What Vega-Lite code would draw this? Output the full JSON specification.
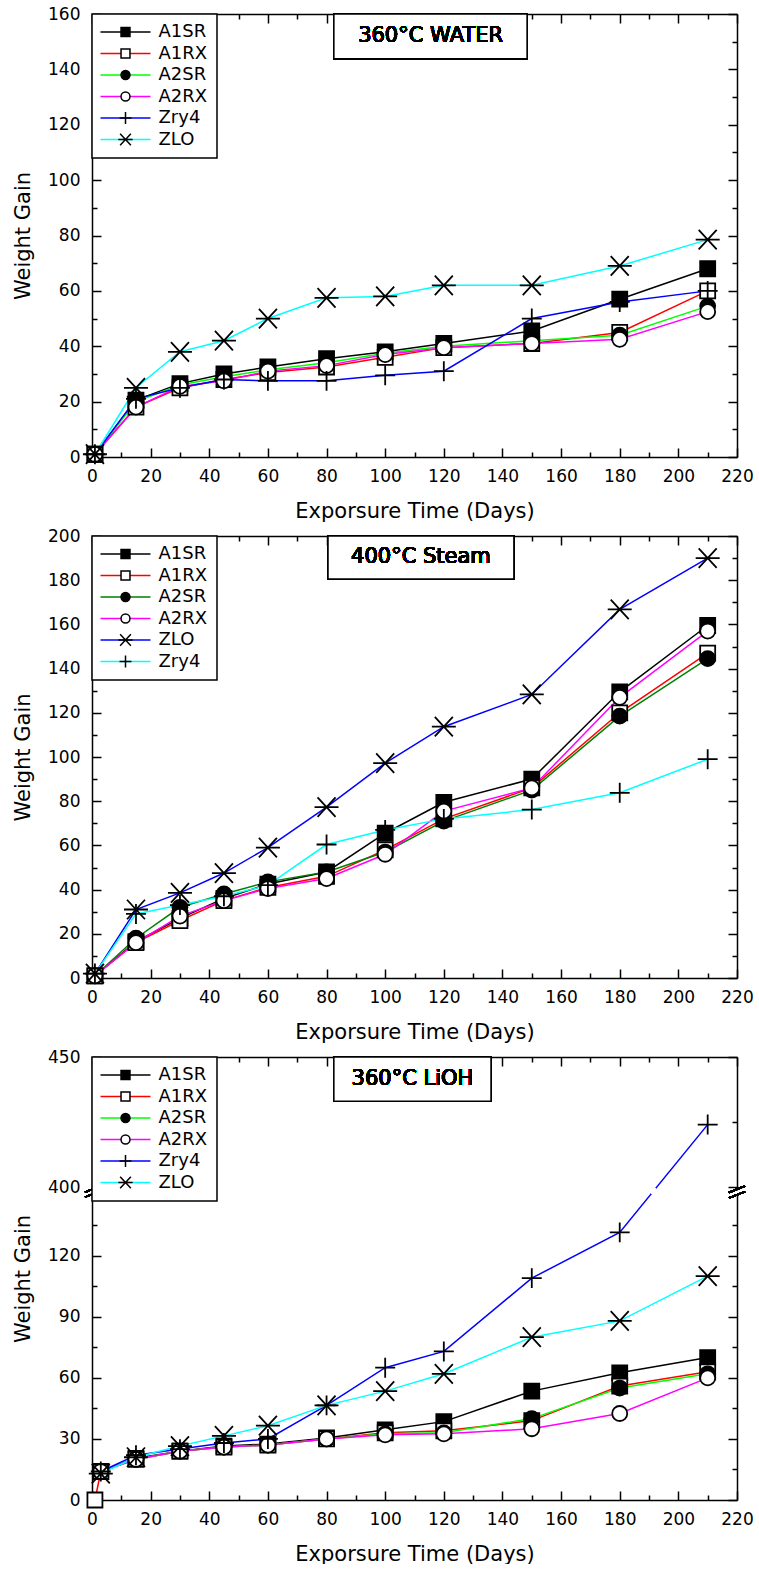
{
  "$schema": "https://vega.github.io/schema/vega-lite/v6.json",
  "background": "white",
  "padding": {"left": 12, "top": 5, "right": 0, "bottom": 0},
  "bounds": "flush",
  "spacing": 79,
  "config": {
    "view": {"stroke": null},
    "legend": {"strokeWidth": 1.5},
    "axis": {
      "domainColor": "black", "domainWidth": 1.5, "tickColor": "black", "tickWidth": 1.5,
      "labelFont": "DejaVu Sans", "labelFontSize": 17, "labelColor": "black",
      "titleFont": "DejaVu Sans", "titleFontSize": 21, "titleFontWeight": "normal", "titleColor": "black",
      "grid": false
    }
  },
  "resolve": {
    "scale": {"x": "independent", "y": "independent", "color": "independent", "shape": "independent", "fill": "independent", "stroke": "independent"},
    "legend": {"color": "independent", "shape": "independent", "fill": "independent", "stroke": "independent"}
  },
  "datasets": {
    "water": [
      {"series": "A1SR", "days": 1, "gain": 1}, {"series": "A1SR", "days": 15, "gain": 20.5}, {"series": "A1SR", "days": 30, "gain": 26.5}, {"series": "A1SR", "days": 45, "gain": 30}, {"series": "A1SR", "days": 60, "gain": 32.5}, {"series": "A1SR", "days": 80, "gain": 35.5}, {"series": "A1SR", "days": 100, "gain": 38}, {"series": "A1SR", "days": 120, "gain": 41}, {"series": "A1SR", "days": 150, "gain": 45.5}, {"series": "A1SR", "days": 180, "gain": 57}, {"series": "A1SR", "days": 210, "gain": 68},
      {"series": "A1RX", "days": 1, "gain": 1}, {"series": "A1RX", "days": 15, "gain": 18}, {"series": "A1RX", "days": 30, "gain": 25}, {"series": "A1RX", "days": 45, "gain": 28}, {"series": "A1RX", "days": 60, "gain": 30.5}, {"series": "A1RX", "days": 80, "gain": 32.5}, {"series": "A1RX", "days": 100, "gain": 36}, {"series": "A1RX", "days": 120, "gain": 39.5}, {"series": "A1RX", "days": 150, "gain": 41}, {"series": "A1RX", "days": 180, "gain": 45}, {"series": "A1RX", "days": 210, "gain": 60},
      {"series": "A2SR", "days": 1, "gain": 1}, {"series": "A2SR", "days": 15, "gain": 20}, {"series": "A2SR", "days": 30, "gain": 26}, {"series": "A2SR", "days": 45, "gain": 29}, {"series": "A2SR", "days": 60, "gain": 31.5}, {"series": "A2SR", "days": 80, "gain": 34}, {"series": "A2SR", "days": 100, "gain": 37.5}, {"series": "A2SR", "days": 120, "gain": 40}, {"series": "A2SR", "days": 150, "gain": 42}, {"series": "A2SR", "days": 180, "gain": 44}, {"series": "A2SR", "days": 210, "gain": 54.5},
      {"series": "A2RX", "days": 1, "gain": 1}, {"series": "A2RX", "days": 15, "gain": 18}, {"series": "A2RX", "days": 30, "gain": 25.5}, {"series": "A2RX", "days": 45, "gain": 27.5}, {"series": "A2RX", "days": 60, "gain": 31}, {"series": "A2RX", "days": 80, "gain": 33}, {"series": "A2RX", "days": 100, "gain": 37}, {"series": "A2RX", "days": 120, "gain": 39.5}, {"series": "A2RX", "days": 150, "gain": 41}, {"series": "A2RX", "days": 180, "gain": 42.5}, {"series": "A2RX", "days": 210, "gain": 52.5},
      {"series": "Zry4", "days": 1, "gain": 1}, {"series": "Zry4", "days": 15, "gain": 21}, {"series": "Zry4", "days": 30, "gain": 25}, {"series": "Zry4", "days": 45, "gain": 28}, {"series": "Zry4", "days": 60, "gain": 27.5}, {"series": "Zry4", "days": 80, "gain": 27.5}, {"series": "Zry4", "days": 100, "gain": 29.5}, {"series": "Zry4", "days": 120, "gain": 31}, {"series": "Zry4", "days": 150, "gain": 50}, {"series": "Zry4", "days": 180, "gain": 56}, {"series": "Zry4", "days": 210, "gain": 60},
      {"series": "ZLO", "days": 1, "gain": 1}, {"series": "ZLO", "days": 15, "gain": 25}, {"series": "ZLO", "days": 30, "gain": 38}, {"series": "ZLO", "days": 45, "gain": 42}, {"series": "ZLO", "days": 60, "gain": 50}, {"series": "ZLO", "days": 80, "gain": 57.5}, {"series": "ZLO", "days": 100, "gain": 58}, {"series": "ZLO", "days": 120, "gain": 62}, {"series": "ZLO", "days": 150, "gain": 62}, {"series": "ZLO", "days": 180, "gain": 69}, {"series": "ZLO", "days": 210, "gain": 78.5}
    ],
    "steam": [
      {"series": "A1SR", "days": 1, "gain": 1}, {"series": "A1SR", "days": 15, "gain": 16.5}, {"series": "A1SR", "days": 30, "gain": 27}, {"series": "A1SR", "days": 45, "gain": 36}, {"series": "A1SR", "days": 60, "gain": 42.5}, {"series": "A1SR", "days": 80, "gain": 48}, {"series": "A1SR", "days": 100, "gain": 65.5}, {"series": "A1SR", "days": 120, "gain": 79.5}, {"series": "A1SR", "days": 150, "gain": 90}, {"series": "A1SR", "days": 180, "gain": 129.5}, {"series": "A1SR", "days": 210, "gain": 159.5},
      {"series": "A1RX", "days": 1, "gain": 1}, {"series": "A1RX", "days": 15, "gain": 16}, {"series": "A1RX", "days": 30, "gain": 26}, {"series": "A1RX", "days": 45, "gain": 35}, {"series": "A1RX", "days": 60, "gain": 41}, {"series": "A1RX", "days": 80, "gain": 46}, {"series": "A1RX", "days": 100, "gain": 58}, {"series": "A1RX", "days": 120, "gain": 72}, {"series": "A1RX", "days": 150, "gain": 86}, {"series": "A1RX", "days": 180, "gain": 120}, {"series": "A1RX", "days": 210, "gain": 147},
      {"series": "A2SR", "days": 1, "gain": 1}, {"series": "A2SR", "days": 15, "gain": 18}, {"series": "A2SR", "days": 30, "gain": 32}, {"series": "A2SR", "days": 45, "gain": 38}, {"series": "A2SR", "days": 60, "gain": 43.5}, {"series": "A2SR", "days": 80, "gain": 48}, {"series": "A2SR", "days": 100, "gain": 57}, {"series": "A2SR", "days": 120, "gain": 71}, {"series": "A2SR", "days": 150, "gain": 85}, {"series": "A2SR", "days": 180, "gain": 118.5}, {"series": "A2SR", "days": 210, "gain": 144.5},
      {"series": "A2RX", "days": 1, "gain": 1}, {"series": "A2RX", "days": 15, "gain": 16}, {"series": "A2RX", "days": 30, "gain": 28}, {"series": "A2RX", "days": 45, "gain": 35}, {"series": "A2RX", "days": 60, "gain": 40.5}, {"series": "A2RX", "days": 80, "gain": 45}, {"series": "A2RX", "days": 100, "gain": 56}, {"series": "A2RX", "days": 120, "gain": 75.5}, {"series": "A2RX", "days": 150, "gain": 86}, {"series": "A2RX", "days": 180, "gain": 127}, {"series": "A2RX", "days": 210, "gain": 157},
      {"series": "ZLO", "days": 1, "gain": 2}, {"series": "ZLO", "days": 15, "gain": 31}, {"series": "ZLO", "days": 30, "gain": 38.5}, {"series": "ZLO", "days": 45, "gain": 47.5}, {"series": "ZLO", "days": 60, "gain": 59}, {"series": "ZLO", "days": 80, "gain": 77.3}, {"series": "ZLO", "days": 100, "gain": 97.2}, {"series": "ZLO", "days": 120, "gain": 113.7}, {"series": "ZLO", "days": 150, "gain": 128.3}, {"series": "ZLO", "days": 180, "gain": 166.8}, {"series": "ZLO", "days": 210, "gain": 190},
      {"series": "Zry4", "days": 1, "gain": 2}, {"series": "Zry4", "days": 15, "gain": 29}, {"series": "Zry4", "days": 30, "gain": 33}, {"series": "Zry4", "days": 45, "gain": 37}, {"series": "Zry4", "days": 60, "gain": 42}, {"series": "Zry4", "days": 80, "gain": 60.4}, {"series": "Zry4", "days": 100, "gain": 67}, {"series": "Zry4", "days": 120, "gain": 72}, {"series": "Zry4", "days": 150, "gain": 76.2}, {"series": "Zry4", "days": 180, "gain": 83.8}, {"series": "Zry4", "days": 210, "gain": 99}
    ],
    "lioh": [
      {"series": "A1SR", "days": 3, "gain": 14}, {"series": "A1SR", "days": 15, "gain": 20.5}, {"series": "A1SR", "days": 30, "gain": 24}, {"series": "A1SR", "days": 45, "gain": 26.5}, {"series": "A1SR", "days": 60, "gain": 27.5}, {"series": "A1SR", "days": 80, "gain": 30.5}, {"series": "A1SR", "days": 100, "gain": 34.5}, {"series": "A1SR", "days": 120, "gain": 38.5}, {"series": "A1SR", "days": 150, "gain": 53.5}, {"series": "A1SR", "days": 180, "gain": 62.5}, {"series": "A1SR", "days": 210, "gain": 70},
      {"series": "A1RX", "days": 1, "gain": 0}, {"series": "A1RX", "days": 3, "gain": 14}, {"series": "A1RX", "days": 15, "gain": 20}, {"series": "A1RX", "days": 30, "gain": 24}, {"series": "A1RX", "days": 45, "gain": 26}, {"series": "A1RX", "days": 60, "gain": 27}, {"series": "A1RX", "days": 80, "gain": 30}, {"series": "A1RX", "days": 100, "gain": 33}, {"series": "A1RX", "days": 120, "gain": 34}, {"series": "A1RX", "days": 150, "gain": 39}, {"series": "A1RX", "days": 180, "gain": 56}, {"series": "A1RX", "days": 210, "gain": 63},
      {"series": "A2SR", "days": 3, "gain": 14}, {"series": "A2SR", "days": 15, "gain": 20}, {"series": "A2SR", "days": 30, "gain": 24}, {"series": "A2SR", "days": 45, "gain": 26}, {"series": "A2SR", "days": 60, "gain": 27}, {"series": "A2SR", "days": 80, "gain": 30}, {"series": "A2SR", "days": 100, "gain": 32.5}, {"series": "A2SR", "days": 120, "gain": 33}, {"series": "A2SR", "days": 150, "gain": 40}, {"series": "A2SR", "days": 180, "gain": 55}, {"series": "A2SR", "days": 210, "gain": 62},
      {"series": "A2RX", "days": 3, "gain": 14}, {"series": "A2RX", "days": 15, "gain": 20}, {"series": "A2RX", "days": 30, "gain": 24}, {"series": "A2RX", "days": 45, "gain": 26}, {"series": "A2RX", "days": 60, "gain": 27}, {"series": "A2RX", "days": 80, "gain": 30}, {"series": "A2RX", "days": 100, "gain": 32}, {"series": "A2RX", "days": 120, "gain": 32.5}, {"series": "A2RX", "days": 150, "gain": 35}, {"series": "A2RX", "days": 180, "gain": 42.5}, {"series": "A2RX", "days": 210, "gain": 60},
      {"series": "Zry4", "days": 3, "gain": 14}, {"series": "Zry4", "days": 15, "gain": 22}, {"series": "Zry4", "days": 30, "gain": 25}, {"series": "Zry4", "days": 45, "gain": 28}, {"series": "Zry4", "days": 60, "gain": 30}, {"series": "Zry4", "days": 80, "gain": 46.5}, {"series": "Zry4", "days": 100, "gain": 65}, {"series": "Zry4", "days": 120, "gain": 73}, {"series": "Zry4", "days": 150, "gain": 109}, {"series": "Zry4", "days": 180, "gain": 131.5}, {"series": "Zry4", "days": 210, "gain": 424},
      {"series": "ZLO", "days": 3, "gain": 13}, {"series": "ZLO", "days": 15, "gain": 21}, {"series": "ZLO", "days": 30, "gain": 26.5}, {"series": "ZLO", "days": 45, "gain": 31.5}, {"series": "ZLO", "days": 60, "gain": 36.5}, {"series": "ZLO", "days": 80, "gain": 46.5}, {"series": "ZLO", "days": 100, "gain": 53.5}, {"series": "ZLO", "days": 120, "gain": 62}, {"series": "ZLO", "days": 150, "gain": 80}, {"series": "ZLO", "days": 180, "gain": 88}, {"series": "ZLO", "days": 210, "gain": 110}
    ]
  },
  "vconcat": [
    {
      "width": 645, "height": 443,
      "data": {"name": "water"},
      "layer": [
        {
          "mark": {"type": "line", "strokeWidth": 1.5},
          "encoding": {
            "x": {"field": "days", "type": "quantitative", "scale": {"domain": [0, 220], "nice": false, "zero": false},
              "axis": {"orient": "bottom", "values": [0,10,20,30,40,50,60,70,80,90,100,110,120,130,140,150,160,170,180,190,200,210,220], "labelExpr": "datum.value % 20 === 0 ? datum.label : ''", "tickSize": {"condition": {"test": "datum.value % 20 === 0", "value": -9}, "value": -5}, "labelPadding": 20, "labelFlush": false, "labelOverlap": false, "title": "Exporsure Time (Days)", "titlePadding": 12}},
            "y": {"field": "gain", "type": "quantitative", "scale": {"domain": [0, 160], "nice": false},
              "axis": {"orient": "left", "values": [0,10,20,30,40,50,60,70,80,90,100,110,120,130,140,150,160], "labelExpr": "datum.value % 20 === 0 ? datum.label : ''", "tickSize": {"condition": {"test": "datum.value % 20 === 0", "value": -9}, "value": -5}, "labelPadding": 21, "labelFlush": false, "labelOverlap": false, "title": "Weight Gain", "titlePadding": 14}},
            "color": {"field": "series", "type": "nominal", "scale": {"domain": ["A1SR", "A1RX", "A2SR", "A2RX", "Zry4", "ZLO"], "range": ["#000000", "#ff0000", "#00ff00", "#ff00ff", "#0000ff", "#00ffff"]},
              "legend": {"orient": "top-left", "offset": 0, "title": null, "padding": 9, "strokeColor": "black", "fillColor": "white", "symbolType": "M-5,0H5", "symbolSize": 100, "symbolStrokeWidth": 1.5, "symbolOffset": 15.5, "labelOffset": 24, "labelFont": "DejaVu Sans", "labelFontSize": 18, "labelColor": "black", "rowPadding": 3.5, "symbolOpacity": 1}}
          }
        },
        {
          "mark": {"type": "point", "size": 225, "strokeWidth": 1.8, "opacity": 1},
          "encoding": {
            "x": {"field": "days", "type": "quantitative", "scale": {"domain": [0, 220], "nice": false, "zero": false},
              "axis": {"orient": "top", "values": [0,10,20,30,40,50,60,70,80,90,100,110,120,130,140,150,160,170,180,190,200,210,220], "labels": false, "title": null, "tickSize": {"condition": {"test": "datum.value % 20 === 0", "value": -9}, "value": -5}}},
            "y": {"field": "gain", "type": "quantitative", "scale": {"domain": [0, 160], "nice": false},
              "axis": {"orient": "right", "values": [0,10,20,30,40,50,60,70,80,90,100,110,120,130,140,150,160], "labels": false, "title": null, "tickSize": {"condition": {"test": "datum.value % 20 === 0", "value": -9}, "value": -5}}},
            "shape": {"field": "series", "type": "nominal", "sort": null, "scale": {"range": ["square", "square", "circle", "circle", "M-1.33,0H1.33M0,-1.33V1.33", "M-1.6,0H1.6M-1.2,-1.3L1.2,1.3M-1.2,1.3L1.2,-1.3"]},
              "legend": {"orient": "none", "legendX": 0, "legendY": 0, "title": null, "padding": 9, "symbolSize": 80, "symbolStrokeWidth": 1.5, "symbolOffset": 15.5, "labelOffset": 24, "labelFont": "DejaVu Sans", "labelFontSize": 18, "labelExpr": "''", "rowPadding": 3.5, "symbolOpacity": 1}},
            "fill": {"field": "series", "type": "nominal", "sort": null, "scale": {"range": ["black", "white", "black", "white", "black", "black"]},
              "legend": {"orient": "none", "legendX": 0, "legendY": 0, "title": null, "padding": 9, "symbolSize": 80, "symbolStrokeWidth": 1.5, "symbolOffset": 15.5, "labelOffset": 24, "labelFont": "DejaVu Sans", "labelFontSize": 18, "labelExpr": "''", "rowPadding": 3.5, "symbolOpacity": 1}},
            "stroke": {"field": "series", "type": "nominal", "sort": null, "scale": {"range": ["black", "black", "black", "black", "black", "black"]},
              "legend": {"orient": "none", "legendX": 0, "legendY": 0, "title": null, "padding": 9, "symbolSize": 80, "symbolStrokeWidth": 1.5, "symbolOffset": 15.5, "labelOffset": 24, "labelFont": "DejaVu Sans", "labelFontSize": 18, "labelExpr": "''", "rowPadding": 3.5, "symbolOpacity": 1}}
          }
        },
        {
          "mark": {"type": "rect", "fill": "white", "stroke": "black", "strokeWidth": 1.5},
          "encoding": {"x": {"datum": 82.5, "axis": null}, "x2": {"datum": 148.4}, "y": {"datum": 160, "axis": null}, "y2": {"datum": 143.85}}
        },
        {
          "mark": {"type": "text", "font": "DejaVu Sans", "fontSize": 21, "fontWeight": "normal", "align": "center", "baseline": "middle", "fill": "black"},
          "encoding": {"x": {"datum": 115.5, "axis": null}, "y": {"datum": 151.9, "axis": null}, "text": {"value": "360°C WATER"}}
        }
      ]
    },
    {
      "width": 645, "height": 442,
      "data": {"name": "steam"},
      "layer": [
        {
          "mark": {"type": "line", "strokeWidth": 1.5},
          "encoding": {
            "x": {"field": "days", "type": "quantitative", "scale": {"domain": [0, 220], "nice": false, "zero": false},
              "axis": {"orient": "bottom", "values": [0,10,20,30,40,50,60,70,80,90,100,110,120,130,140,150,160,170,180,190,200,210,220], "labelExpr": "datum.value % 20 === 0 ? datum.label : ''", "tickSize": {"condition": {"test": "datum.value % 20 === 0", "value": -9}, "value": -5}, "labelPadding": 20, "labelFlush": false, "labelOverlap": false, "title": "Exporsure Time (Days)", "titlePadding": 12}},
            "y": {"field": "gain", "type": "quantitative", "scale": {"domain": [0, 200], "nice": false},
              "axis": {"orient": "left", "values": [0,10,20,30,40,50,60,70,80,90,100,110,120,130,140,150,160,170,180,190,200], "labelExpr": "datum.value % 20 === 0 ? datum.label : ''", "tickSize": {"condition": {"test": "datum.value % 20 === 0", "value": -9}, "value": -5}, "labelPadding": 21, "labelFlush": false, "labelOverlap": false, "title": "Weight Gain", "titlePadding": 14}},
            "color": {"field": "series", "type": "nominal", "scale": {"domain": ["A1SR", "A1RX", "A2SR", "A2RX", "ZLO", "Zry4"], "range": ["#000000", "#ff0000", "#008000", "#ff00ff", "#0000ff", "#00ffff"]},
              "legend": {"orient": "top-left", "offset": 0, "title": null, "padding": 9, "strokeColor": "black", "fillColor": "white", "symbolType": "M-5,0H5", "symbolSize": 100, "symbolStrokeWidth": 1.5, "symbolOffset": 15.5, "labelOffset": 24, "labelFont": "DejaVu Sans", "labelFontSize": 18, "labelColor": "black", "rowPadding": 3.5, "symbolOpacity": 1}}
          }
        },
        {
          "mark": {"type": "point", "size": 225, "strokeWidth": 1.8, "opacity": 1},
          "encoding": {
            "x": {"field": "days", "type": "quantitative", "scale": {"domain": [0, 220], "nice": false, "zero": false},
              "axis": {"orient": "top", "values": [0,10,20,30,40,50,60,70,80,90,100,110,120,130,140,150,160,170,180,190,200,210,220], "labels": false, "title": null, "tickSize": {"condition": {"test": "datum.value % 20 === 0", "value": -9}, "value": -5}}},
            "y": {"field": "gain", "type": "quantitative", "scale": {"domain": [0, 200], "nice": false},
              "axis": {"orient": "right", "values": [0,10,20,30,40,50,60,70,80,90,100,110,120,130,140,150,160,170,180,190,200], "labels": false, "title": null, "tickSize": {"condition": {"test": "datum.value % 20 === 0", "value": -9}, "value": -5}}},
            "shape": {"field": "series", "type": "nominal", "sort": null, "scale": {"range": ["square", "square", "circle", "circle", "M-1.6,0H1.6M-1.2,-1.3L1.2,1.3M-1.2,1.3L1.2,-1.3", "M-1.33,0H1.33M0,-1.33V1.33"]},
              "legend": {"orient": "none", "legendX": 0, "legendY": 0, "title": null, "padding": 9, "symbolSize": 80, "symbolStrokeWidth": 1.5, "symbolOffset": 15.5, "labelOffset": 24, "labelFont": "DejaVu Sans", "labelFontSize": 18, "labelExpr": "''", "rowPadding": 3.5, "symbolOpacity": 1}},
            "fill": {"field": "series", "type": "nominal", "sort": null, "scale": {"range": ["black", "white", "black", "white", "black", "black"]},
              "legend": {"orient": "none", "legendX": 0, "legendY": 0, "title": null, "padding": 9, "symbolSize": 80, "symbolStrokeWidth": 1.5, "symbolOffset": 15.5, "labelOffset": 24, "labelFont": "DejaVu Sans", "labelFontSize": 18, "labelExpr": "''", "rowPadding": 3.5, "symbolOpacity": 1}},
            "stroke": {"field": "series", "type": "nominal", "sort": null, "scale": {"range": ["black", "black", "black", "black", "black", "black"]},
              "legend": {"orient": "none", "legendX": 0, "legendY": 0, "title": null, "padding": 9, "symbolSize": 80, "symbolStrokeWidth": 1.5, "symbolOffset": 15.5, "labelOffset": 24, "labelFont": "DejaVu Sans", "labelFontSize": 18, "labelExpr": "''", "rowPadding": 3.5, "symbolOpacity": 1}}
          }
        },
        {
          "mark": {"type": "rect", "fill": "white", "stroke": "black", "strokeWidth": 1.5},
          "encoding": {"x": {"datum": 80.5, "axis": null}, "x2": {"datum": 143.9}, "y": {"datum": 200, "axis": null}, "y2": {"datum": 180.5}}
        },
        {
          "mark": {"type": "text", "font": "DejaVu Sans", "fontSize": 21, "fontWeight": "normal", "align": "center", "baseline": "middle", "fill": "black"},
          "encoding": {"x": {"datum": 112.2, "axis": null}, "y": {"datum": 190.3, "axis": null}, "text": {"value": "400°C Steam"}}
        }
      ]
    },
    {
      "width": 645, "height": 443,
      "data": {"name": "lioh"},
      "layer": [
        {
          "mark": {"type": "line", "strokeWidth": 1.5},
          "encoding": {
            "x": {"field": "days", "type": "quantitative", "scale": {"domain": [0, 220], "nice": false, "zero": false},
              "axis": {"orient": "bottom", "values": [0,10,20,30,40,50,60,70,80,90,100,110,120,130,140,150,160,170,180,190,200,210,220], "labelExpr": "datum.value % 20 === 0 ? datum.label : ''", "tickSize": {"condition": {"test": "datum.value % 20 === 0", "value": -9}, "value": -5}, "labelPadding": 20, "labelFlush": false, "labelOverlap": false, "title": "Exporsure Time (Days)", "titlePadding": 12}},
            "y": {"field": "gain", "type": "quantitative", "scale": {"domain": [0, 150, 400, 450], "range": [443, 137.7, 130, 0], "nice": false, "zero": false},
              "axis": {"orient": "left", "values": [0,15,30,45,60,75,90,105,120,135,400,425,450], "labelExpr": "(datum.value % 30 === 0 && datum.value <= 150) || datum.value === 400 || datum.value === 450 ? datum.label : ''", "tickSize": {"condition": {"test": "(datum.value % 30 === 0 && datum.value <= 150) || datum.value === 400 || datum.value === 450", "value": -9}, "value": -5}, "labelPadding": 21, "labelFlush": false, "labelOverlap": false, "title": "Weight Gain", "titlePadding": 14}},
            "color": {"field": "series", "type": "nominal", "scale": {"domain": ["A1SR", "A1RX", "A2SR", "A2RX", "Zry4", "ZLO"], "range": ["#000000", "#ff0000", "#00ff00", "#ff00ff", "#0000ff", "#00ffff"]},
              "legend": {"orient": "top-left", "offset": 0, "title": null, "padding": 9, "strokeColor": "black", "fillColor": "white", "symbolType": "M-5,0H5", "symbolSize": 100, "symbolStrokeWidth": 1.5, "symbolOffset": 15.5, "labelOffset": 24, "labelFont": "DejaVu Sans", "labelFontSize": 18, "labelColor": "black", "rowPadding": 3.5, "symbolOpacity": 1}}
          }
        },
        {
          "mark": {"type": "point", "size": 225, "strokeWidth": 1.8, "opacity": 1},
          "encoding": {
            "x": {"field": "days", "type": "quantitative", "scale": {"domain": [0, 220], "nice": false, "zero": false},
              "axis": {"orient": "top", "values": [0,10,20,30,40,50,60,70,80,90,100,110,120,130,140,150,160,170,180,190,200,210,220], "labels": false, "title": null, "tickSize": {"condition": {"test": "datum.value % 20 === 0", "value": -9}, "value": -5}}},
            "y": {"field": "gain", "type": "quantitative", "scale": {"domain": [0, 150, 400, 450], "range": [443, 137.7, 130, 0], "nice": false, "zero": false},
              "axis": {"orient": "right", "values": [0,15,30,45,60,75,90,105,120,135,400,425,450], "labels": false, "title": null, "tickSize": {"condition": {"test": "(datum.value % 30 === 0 && datum.value <= 150) || datum.value === 400 || datum.value === 450", "value": -9}, "value": -5}}},
            "shape": {"field": "series", "type": "nominal", "sort": null, "scale": {"range": ["square", "square", "circle", "circle", "M-1.33,0H1.33M0,-1.33V1.33", "M-1.6,0H1.6M-1.2,-1.3L1.2,1.3M-1.2,1.3L1.2,-1.3"]},
              "legend": {"orient": "none", "legendX": 0, "legendY": 0, "title": null, "padding": 9, "symbolSize": 80, "symbolStrokeWidth": 1.5, "symbolOffset": 15.5, "labelOffset": 24, "labelFont": "DejaVu Sans", "labelFontSize": 18, "labelExpr": "''", "rowPadding": 3.5, "symbolOpacity": 1}},
            "fill": {"field": "series", "type": "nominal", "sort": null, "scale": {"range": ["black", "white", "black", "white", "black", "black"]},
              "legend": {"orient": "none", "legendX": 0, "legendY": 0, "title": null, "padding": 9, "symbolSize": 80, "symbolStrokeWidth": 1.5, "symbolOffset": 15.5, "labelOffset": 24, "labelFont": "DejaVu Sans", "labelFontSize": 18, "labelExpr": "''", "rowPadding": 3.5, "symbolOpacity": 1}},
            "stroke": {"field": "series", "type": "nominal", "sort": null, "scale": {"range": ["black", "black", "black", "black", "black", "black"]},
              "legend": {"orient": "none", "legendX": 0, "legendY": 0, "title": null, "padding": 9, "symbolSize": 80, "symbolStrokeWidth": 1.5, "symbolOffset": 15.5, "labelOffset": 24, "labelFont": "DejaVu Sans", "labelFontSize": 18, "labelExpr": "''", "rowPadding": 3.5, "symbolOpacity": 1}}
          }
        },
        {
          "mark": {"type": "rect", "fill": "white", "stroke": "black", "strokeWidth": 1.5},
          "encoding": {"x": {"datum": 82.5, "axis": null}, "x2": {"datum": 136.1}, "y": {"datum": 450, "axis": null}, "y2": {"datum": 433}}
        },
        {
          "mark": {"type": "text", "font": "DejaVu Sans", "fontSize": 21, "fontWeight": "normal", "align": "center", "baseline": "middle", "fill": "black"},
          "encoding": {"x": {"datum": 109.3, "axis": null}, "y": {"datum": 441.5, "axis": null}, "text": {"value": "360°C LiOH"}}
        },
        {
          "mark": {"type": "point", "shape": "M-1,0.2L1,-0.6L1,0.1L-1,0.9Z", "size": 196, "fill": "white", "strokeWidth": 0, "filled": true, "opacity": 1},
          "encoding": {"x": {"datum": 0, "axis": null}, "y": {"datum": 275, "axis": null}}
        },
        {
          "mark": {"type": "point", "shape": "M-1,0.2L1,-0.6M-1,0.9L1,0.1", "size": 196, "stroke": "black", "strokeWidth": 1.5, "filled": false, "opacity": 1},
          "encoding": {"x": {"datum": 0, "axis": null}, "y": {"datum": 275, "axis": null}}
        },
        {
          "mark": {"type": "point", "shape": "M-1,0.2L1,-0.6L1,0.1L-1,0.9Z", "size": 256, "fill": "white", "strokeWidth": 0, "filled": true, "opacity": 1},
          "encoding": {"x": {"datum": 220, "axis": null}, "y": {"datum": 275, "axis": null}}
        },
        {
          "mark": {"type": "point", "shape": "M-1,0.2L1,-0.6M-1,0.9L1,0.1", "size": 256, "stroke": "black", "strokeWidth": 1.5, "filled": false, "opacity": 1},
          "encoding": {"x": {"datum": 220, "axis": null}, "y": {"datum": 275, "axis": null}}
        },
        {
          "mark": {"type": "point", "shape": "M-0.5,-0.6H0.5V0.6H-0.5Z", "size": 64, "fill": "white", "strokeWidth": 0, "filled": true, "opacity": 1},
          "encoding": {"x": {"datum": 191.6, "axis": null}, "y": {"datum": 275, "axis": null}}
        }
      ]
    }
  ]
}
